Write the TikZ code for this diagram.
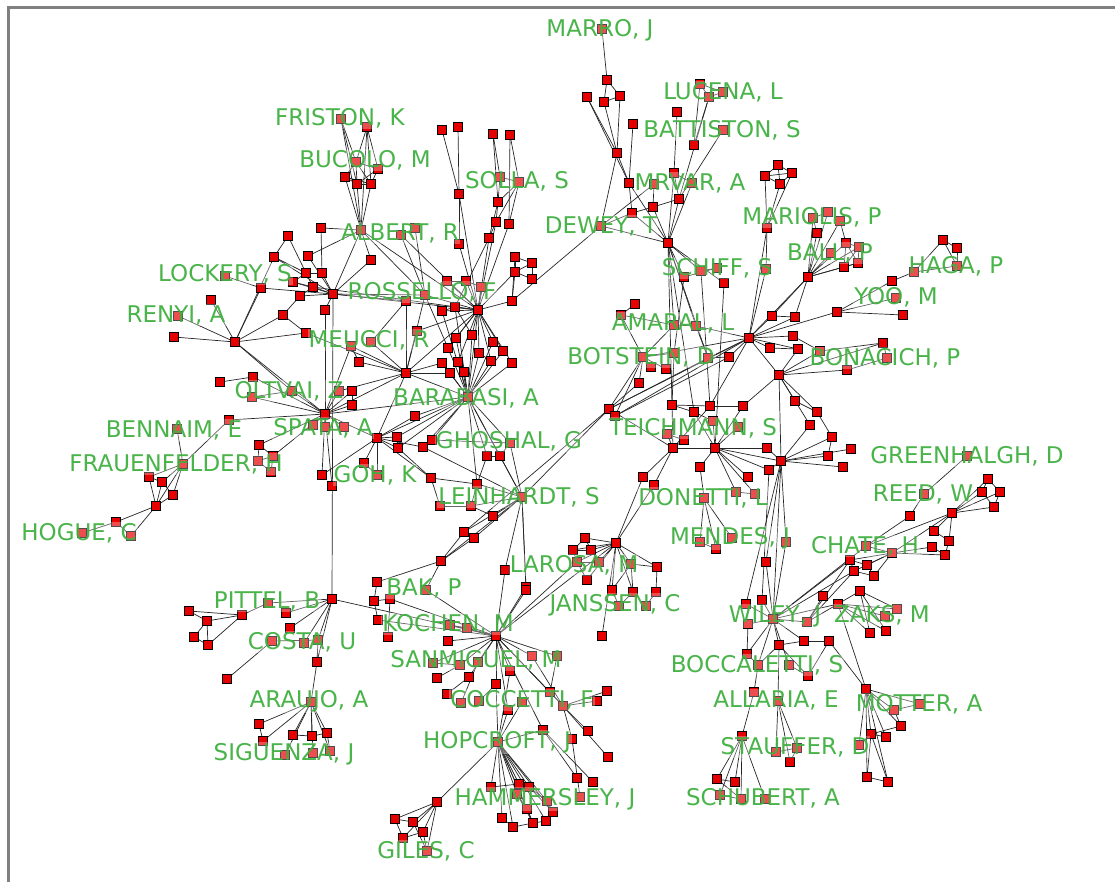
\documentclass[tikz,border=0pt]{standalone}
\usepackage{fontspec}
\setmainfont{DejaVu Sans}
\pgfdeclarelayer{bgzero}
\pgfdeclarelayer{edges}
\pgfsetlayers{bgzero,edges,main}
\definecolor{lblgreen}{RGB}{64,176,64}
\definecolor{nodered}{RGB}{230,0,0}
\tikzset{
  pt/.style={rectangle, minimum size=8.5pt, inner sep=0pt, fill=nodered, draw=black, line width=0.6pt},
  edge/.style={draw=black!85, line width=0.7pt},
  lbl/.style={font=\fontsize{23}{26}\selectfont, text=lblgreen, fill=white, fill opacity=0.3, text opacity=0.95, inner sep=1pt},
}
\begin{document}
\begin{tikzpicture}[x=1pt,y=-1pt]
\useasboundingbox (0,0) rectangle (1115,882);
\begin{pgfonlayer}{bgzero}
\fill[white] (0,0) rectangle (1115,882);
\draw[gray, line width=3pt] (8,882) -- (8,8) -- (1115,8);
\end{pgfonlayer}
% ---------------- nodes ----------------
\foreach \n/\x/\y in {alb/361/230, f1/341/119, f2/367/127, f3/356/162, f4/378/169, f5/345/177, f6/357/184, f7/371/184, a2/321/228, a3/288/236, a4/308/256, a5/371/260, a6/401/235, a7/415/228,
 lk1/274/257, lk2/225/276, lk3/261/288, lk4/306/273, lk5/322/273, lk6/293/282, lk7/313/287, lkh/333/294, lk8/300/296, lk9/325/310, lk10/283/315,
 ren/235/342, r1/211/300, r2/178/316, r3/174/337,
 olt/325/414, o1/292/391, o2/220/382, o3/253/377, o4/252/397, o5/339/391, o6/352/391, o7/352/405, o8/313/425, o9/325/427, o10/344/427, o11/229/420,
 sp1/259/445, sp2/273/456, sp3/258/461, sp4/271/472,
 fra/183/464, fr1/177/429, fr2/149/477, fr3/162/482, fr4/173/495, fr5/156/506, fr6/116/522, fr7/82/533, fr8/131/536,
 mel/406/373, m1/306/333, m2/351/346, m3/371/342, m4/359/362, m5/417/331, m6/406/301,
 goh/377/438, g1/397/437, g2/398/448, g3/423/447, g4/432/440, g5/415/416, g6/364/463, g7/377/475, g8/322/475, g9/332/486, g10/431/478}
  \node[pt] (\n) at (\x,\y) {};
\foreach \n/\x/\y in {bar/468/397, ros/478/310, c1/425/295, c2/442/311, c3/455/307, c4/512/301, c5/456/338, c6/472/335, c7/493/342, c8/448/348, c9/479/353, c10/503/351, c11/442/363, c12/458/362, c13/491/361, c14/512/363, c15/450/373, c16/464/372, c17/447/281, c18/466/281, c19/481/287, c20/515/257, c21/532/263, c22/515/272, c23/532/279,
 s1/442/130, s2/458/127, s3/459/194, s4/459/244, s5/493/134, s6/510/135, s7/500/177, s8/519/182, s9/498/202, s10/496/222, s11/509/224, s12/489/238,
 lei/522/497, l1/510/443, l2/487/456, l3/500/456, l4/477/484, l5/440/506, l6/471/506, l7/493/516, l8/464/532, l9/474/538, l10/441/561, l11/505/570, l12/526/587,
 koc/496/636, bk0/377/582, bk1/374/601, bk2/390/599, bk3/378/620, bk4/388/637, bk5/426/590, k1/450/625, k2/467/628, k3/448/641, k4/433/663, k5/437/678, k6/460/665, k7/478/662, k8/469/677, k9/447/694, k10/461/703, k11/479/701, k12/496/684, k13/510/671, k14/532/656, k15/557/656, k16/508/710, k17/522/702, k18/550/692, k19/543/730, k20/526/590, k21/563/706, k22/597/701, k23/607/691, k24/588/731, k25/572/739, k26/608/757, k27/577/778, k28/593/782, k29/580/797,
 hop/498/742, h1/491/787, h2/519/784, h3/529/787, h4/517/794, h5/527/809, h6/547/801, h7/502/818, h8/513/827, h9/533/823, h10/546/821, h11/553/812,
 gil/437/802, gi1/395/819, gi2/413/822, gi3/423/832, gi4/403/838, gi5/427/851,
 pit/332/599, p1/286/613, p2/290/628, p3/304/643, p4/318/640, p5/317/662, p6/268/603, p7/242/615, p8/189/611, p9/207/621, p10/194/637, p11/208/645, p12/272/641, p13/227/679,
 ara/311/702, ar1/293/735, ar2/312/736, ar3/327/733, ar4/330/751, ar5/285/755, ar6/313/753, ar7/259/724, ar8/263/741}
  \node[pt] (\n) at (\x,\y) {};
\foreach \n/\x/\y in {dew/601/226, d1/602/29, d2/607/80, d3/587/97, d4/604/102, d5/620/96, d6/617/153, d7/633/124, d8/629/183, d9/632/213, d10/653/207, d11/654/184, d12/674/173, d13/679/199, d14/692/183, mrv/668/243, d15/677/112, d16/694/145, d17/723/130, d18/700/84, d19/709/97, d20/723/92,
 sc1/684/277, sc2/701/271, sc3/717/268, sc4/724/283, sc5/766/269,
 mo1/765/176, mo2/778/165, mo3/792/173, mo4/780/184, mo5/767/228,
 bal/808/277, b1/828/212, b2/813/218, b3/817/233, b4/831/253, b5/840/221, b6/846/243, b7/859/247, b8/844/267, b9/858/263,
 hg1/943/240, hg2/957/248, hg3/957/266, hg4/914/272, hg5/892/281,
 yo0/837/312, yo1/896/298, yo2/903/315,
 bn1/883/343, bn2/887/358, bn3/847/370,
 amh/749/338, bon/779/375, don/781/461, te1/673/448, te2/715/448, tb/609/409,
 t1/635/304, t2/621/315, t3/674/325, t4/696/326, t5/772/316, t6/795/317, t7/793/336, t8/770/348, t9/798/349, t10/820/351, t11/643/357, t12/674/353, t13/708/358, t14/729/357, t15/651/367, t16/666/369, t17/639/383, t18/615/416, t19/672/405, t20/710/406, t21/743/406, t22/694/412, t23/713/421, t24/738/427, t25/795/401, t26/817/412, t27/810/425, t28/832/437, t29/828/456, t30/667/434, t31/684/440, t32/767/448, t33/769/470, t34/700/467, t35/643/477, t36/654/485, t37/748/477, t38/736/492, t39/755/494, t40/704/498, t41/700/542, t42/716/549, t43/732/538, t44/786/542, t45/766/562, t46/851/449, t47/843/467}
  \node[pt] (\n) at (\x,\y) {};
\foreach \n/\x/\y in {lar/616/543, la1/585/538, la2/573/550, la3/591/550, la4/577/562, la5/599/562, la6/587/580, la7/631/564, la8/657/567, la9/612/590, la10/602/636, la12/633/592, la13/656/592, la14/619/606, la15/646/606,
 wil/773/619, w1/746/604, w2/762/600, w3/748/624, w4/807/622, w5/823/596, w6/838/604, w7/779/645, w8/804/641, w9/829/641, w10/747/654, w11/758/665, w12/789/665, w13/808/676, w14/754/692, w15/778/701,
 st0/742/736, st1/776/752, st2/797/748, st3/790/762, st4/717/779, st5/735/782, st6/720/795, st7/741/799, st8/765/799,
 ch1/850/560, ch2/867/565, ch3/854/571, ch4/874/576, ch5/866/546, ch6/892/553, z1/860/591, z2/897/609, z3/885/616, z4/870/633, z5/886/631,
 ree/952/513, re1/934/531, re2/949/541, re3/932/547, re4/945/555, re5/988/479, re6/982/492, re7/1000/492, re8/994/507, re9/910/516, re10/924/494, re11/967/456,
 mot/866/689, mt1/894/710, mt2/920/704, mt3/901/726, mt4/871/734, mt5/886/737, mt6/859/745, mt7/867/777, mt8/888/782}
  \node[pt] (\n) at (\x,\y) {};
% ---------------- edges ----------------
\begin{pgfonlayer}{edges}
\foreach \a/\b in {f1/f3, f1/f6, f2/f3, f2/f4, f2/f7, f3/f4, f3/f5, f3/f6, f3/f7, f4/f6, f4/f7, f5/f6, f6/f7, f5/f7, alb/f1, alb/f2, alb/f5, alb/f6, alb/f7, alb/a2, alb/a5, alb/lkh, alb/c1, alb/ros, a6/c1, a7/c1, a6/ros, a3/lk4, a3/lk1, a4/lkh, a4/alb, a5/lkh, a2/lk5,
 lk2/lk3, lk3/lkh, lk1/lkh, lk1/lk4, lk4/lk5, lk4/lk6, lk4/lk7, lk5/lkh, lk6/lk7, lk6/lkh, lk7/lkh, lk8/lk7, lk8/lkh, lk9/lkh, lk10/lk8, lk3/ren, lk1/ren, lkh/c1, lkh/ros, lk7/ros, lkh/pit, lk9/olt,
 ren/r1, ren/r2, ren/r3, ren/olt, ren/o1, ren/lk10, ren/m1,
 olt/o1, olt/o3, olt/o4, olt/o5, olt/o6, olt/o7, olt/o8, olt/o9, olt/o10, olt/o11, o2/o3, o1/o4, olt/sp1, olt/sp2, sp1/sp2, sp1/sp3, sp2/sp3, sp2/sp4, sp3/sp4, olt/mel, olt/goh, olt/g9, olt/m2, olt/bar, o11/fra, o6/o7, o5/mel,
 fra/fr1, fra/fr2, fra/fr3, fra/fr4, fra/fr5, fr2/fr3, fr2/fr5, fr3/fr4, fr3/fr5, fr4/fr5, fr5/fr6, fr6/fr7, fr6/fr8, fr5/fr8,
 mel/m2, mel/m3, mel/m4, mel/m5, mel/m1, mel/bar, mel/ros, mel/c1, m1/lk10, m3/m6, m6/lkh, m5/ros, m4/m2, mel/c11, mel/c15, mel/goh, mel/m6,
 goh/g1, goh/g2, goh/g3, goh/g6, goh/g7, goh/g5, goh/bar, g1/bar, g2/bar, g3/bar, g4/bar, g5/bar, g8/goh, g8/olt, g10/goh, g10/g2, g10/l4, g3/g4, g1/g2, g6/g7, g4/l1, g3/lei, g10/l5}
  \draw[edge] (\a) -- (\b);
\foreach \a/\b in {bar/ros, ros/c1, ros/c2, ros/c3, ros/c4, ros/c5, ros/c6, ros/c7, ros/c8, ros/c9, ros/c10, ros/c12, ros/c13, ros/c14, ros/c17, ros/c18, ros/c19, bar/c5, bar/c6, bar/c8, bar/c9, bar/c11, bar/c12, bar/c13, bar/c14, bar/c15, bar/c16, bar/c7, bar/c10, bar/c2, bar/c3, c20/c21, c20/c22, c21/c23, c22/c23, c21/c22, c4/c20, c4/c22, ros/c22, c4/dew, c5/c8, c9/c13, c11/c15, c12/c16, c2/c3, c17/c18, c18/c19, c1/c8, c3/c6,
 s1/s3, s2/s3, s3/s4, s4/ros, s3/ros, s5/s7, s5/s9, s6/s11, s6/s8, s7/s9, s7/s8, s8/s9, s8/s10, s8/s11, s9/s10, s10/s12, s9/s12, s12/ros, s10/ros, s11/ros, s12/c3,
 bar/l1, bar/l2, bar/l3, bar/l4, bar/lei, l1/lei, l2/l4, l3/lei, l4/lei, l4/l6, l5/l6, l6/lei, l7/lei, l6/l7, l8/lei, l9/lei, l8/l9, l10/l8, l10/l9, l10/lei, l11/lei, l12/lei, l11/koc, l12/koc, lei/tb, l10/bk5, l8/tb, l2/l3, l1/l3,
 koc/k1, koc/k2, koc/k3, koc/k4, koc/k6, koc/k7, koc/k8, koc/k12, koc/k13, koc/k14, koc/k15, koc/k16, koc/k18, koc/k19, koc/k20, koc/bk5, koc/bk3, koc/bk2, koc/pit, bk1/bk2, bk1/bk3, bk0/bk1, bk2/bk4, bk0/l10, k1/k2, k4/k6, k5/k6, k9/k8, k10/k7, k11/k12, k13/hop, k16/hop, k17/hop, k19/hop, k12/hop, k15/k18, k21/k22, k21/k23, k21/k24, k21/k26, k21/k25, k21/koc, k21/k14, k18/k21, k19/k27, k19/k28, k25/k29, k20/lei, koc/la4, koc/lar,
 hop/h1, hop/h2, hop/h3, hop/h4, hop/h5, hop/h6, hop/h7, hop/h8, hop/h9, hop/h10, hop/h11, h1/h2, h2/h3, h2/h4, h4/h5, h5/h9, h9/h10, h10/h11, h6/h11, h3/h6, h7/h8, h8/h9, h4/h9, hop/gil, h3/h11,
 gil/gi1, gil/gi2, gil/gi3, gil/gi4, gil/gi5, gi1/gi2, gi1/gi4, gi2/gi3, gi4/gi3, gi2/gi5, gi3/gi5,
 pit/p1, pit/p2, pit/p3, pit/p4, pit/p6, p6/p7, p7/p8, p7/p9, p7/p11, p8/p9, p9/p10, p10/p11, p9/p11, p4/p12, p12/p13, p4/p5, pit/p5, p5/ara,
 ara/ar1, ara/ar2, ara/ar3, ara/ar4, ara/ar5, ara/ar6, ara/ar7, ar1/ar2, ar2/ar3, ar7/ar8, ara/ar8, ar3/ar4}
  \draw[edge] (\a) -- (\b);
\foreach \a/\b in {d1/d2, d2/d4, d2/d5, d4/d5, d3/d6, d4/d6, d5/d6, d6/d8, d6/dew, d3/d8, d7/d8, d8/d9, d8/mrv, d9/dew, d9/d10, d9/mrv, d10/d13, d10/mrv, d13/mrv, d12/d15, d12/d14, d16/d18, d17/d13, d19/d13, d14/mrv, d12/mrv, dew/mrv, dew/d11, d11/d10, d18/d20, d19/d20, d18/d19, d16/d19, d12/d13,
 mrv/sc1, mrv/sc2, mrv/sc4, sc2/sc3, sc3/sc1, mrv/t19, mrv/t22, mrv/t4, mrv/t3, sc2/t20, sc4/te2, sc1/t12, mrv/t13,
 mo1/mo2, mo2/mo3, mo3/mo4, mo4/mo1, mo1/mo3, mo2/mo4, mo5/mo1, mo5/mo4, mo5/mo3, mo5/sc5, sc5/amh, mo5/amh,
 bal/b1, bal/b2, bal/b3, bal/b4, bal/b5, bal/b6, bal/b7, bal/b8, bal/b9, b1/b2, b2/b3, b5/b6, b6/b7, b6/b8, b7/b9, b8/b9, b6/b9, b7/b8, bal/amh, bal/t5, bal/t6,
 amh/yo0, yo0/hg5, hg5/hg4, hg4/hg1, hg4/hg3, hg1/hg2, hg2/hg3, hg1/hg3, yo0/yo1, yo0/yo2,
 bon/bn1, bon/bn3, bn3/bn2, t10/bn1, bn1/bn2,
 amh/t5, amh/t6, amh/t7, amh/t8, amh/t9, amh/t14, amh/t13, amh/bon, amh/t11, amh/tb, amh/t18, amh/t4, t1/t2, t2/t11, t11/tb, t11/t18, t11/t15, t11/t17, t11/t16, t11/t3, t3/t4, t4/t13, t12/t19, t12/t11, t13/tb, t14/t18, t14/t13, t17/tb, t19/te1, t19/t20, t19/t22, t20/t21, t21/bon, t21/te2, t22/te2, t22/t23, t23/te2, t24/te2, te1/te2, te1/t30, te1/t31, te1/t35, te1/t36, te1/tb, te2/t32, te2/t33, te2/t37, te2/t38, te2/t39, te2/t34, t34/t40, t40/t41, t40/t42, t40/t43, t41/t42, t38/t39, bon/don, bon/t25, bon/t26, bon/t27, bon/t10, bon/t9, don/t27, don/t29, don/t28, don/t32, don/t33, don/t46, don/t47, don/t44, don/t45, don/wil, don/te2, t7/t10, t6/t5, t8/t9, t25/t26, t26/t28, t28/t29, t36/lar, t35/lar, t30/t31, te1/t20, tb/t18, t2/t3, amh/t20, t45/wil, t44/wil, t33/w2, don/w1}
  \draw[edge] (\a) -- (\b);
\foreach \a/\b in {lar/la1, lar/la2, lar/la3, lar/la5, lar/la6, lar/la7, lar/la8, lar/la9, lar/la10, la1/la2, la1/la3, la2/la4, la3/la5, la4/la5, la4/la6, la2/la3, la7/la9, la12/la14, la13/la15, la8/la13, la7/la12, lar/la12, lar/la4, la14/la9, la8/la7,
 wil/w1, wil/w2, wil/w3, wil/w4, wil/w7, wil/w8, wil/w10, wil/w11, wil/w12, w4/w5, w4/w6, w8/w7, w9/w8, w9/w13, w13/w7, w11/w14, w14/st0, w15/w7, w15/st1, w15/st2, w15/st3, st1/st2, st3/st2, st0/st4, st0/st5, st0/st6, st0/st7, st0/st8, st4/st5, st4/st7, st6/st7, w10/w11, w3/w10, w12/w13, w7/w11,
 wil/ch1, wil/ch3, wil/ch5, wil/w6, ch1/ch2, ch2/ch4, ch3/ch4, ch1/ch3, ch5/ch6, ch4/ch6, ch5/re9, re9/re10, re10/re11, ch6/ree, ch6/re3, ch6/re4, w6/z1, w6/z2, w6/z3, w6/z4, w6/z5, z1/z2, z1/z4, z1/z5, w6/mot, w9/mot, ch2/ch6, ch1/ch6, ch3/ch6, ch1/w4, ch3/w4,
 ree/re1, ree/re2, ree/re5, ree/re6, ree/re7, ree/re8, re5/re6, re5/re7, re6/re8, re7/re8, re1/re2, re3/re4, re2/re4, ree/ch5,
 mot/mt1, mot/mt2, mot/mt3, mot/mt4, mot/mt5, mot/mt7, mot/mt8, mt1/mt2, mt1/mt3, mt4/mt5, mt4/mt3, mt4/mt7, mt4/mt8, mt7/mt8, mt6/mt4, mt6/mot}
  \draw[edge] (\a) -- (\b);
\end{pgfonlayer}
% ---------------- labels ----------------
\foreach \n/\x/\y/\t in {Lmarro/600/30/{MARRO, J}, Llucena/723/92/{LUCENA, L}, Lbattiston/722/130/{BATTISTON, S}, Lfriston/340/118/{FRISTON, K}, Lbucolo/365/160/{BUCOLO, M}, Lsolla/517/181/{SOLLA, S}, Lmrvar/690/183/{MRVAR, A}, Ldewey/601/226/{DEWEY, T}, Lalbert/400/233/{ALBERT, R}, Lmariolis/812/217/{MARIOLIS, P}, Lschiff/717/268/{SCHIFF, S}, Lball/830/253/{BALL, P}, Lhaga/956/266/{HAGA, P}, Llockery/225/274/{LOCKERY, S}, Lrossello/422/292/{ROSSELLO, F}, Lyoo/896/297/{YOO, M}, Lrenyi/176/315/{RENYI, A}, Lamaral/673/323/{AMARAL, L}, Lmeucci/369/340/{MEUCCI, R}, Lbotstein/641/357/{BOTSTEIN, D}, Lbonacich/885/358/{BONACICH, P}, Loltvai/289/391/{OLTVAI, Z}, Lbarabasi/466/398/{BARABASI, A}, Lbennaim/174/430/{BENNAIM, E}, Lspata/323/428/{SPATA, A}, Lteichmann/693/428/{TEICHMANN, S}, Lghoshal/509/441/{GHOSHAL, G}, Lgreenhalgh/967/456/{GREENHALGH, D}, Lfrauenfelder/176/464/{FRAUENFELDER, H}, Lgoh/375/475/{GOH, K}, Ldonetti/703/498/{DONETTI, L}, Lleinhardt/519/497/{LEINHARDT, S}, Lreed/923/494/{REED, W}, Lhogue/79/533/{HOGUE, C}, Lmendes/730/538/{MENDES, J}, Lchate/865/546/{CHATE, H}, Llarosa/574/565/{LAROSA, M}, Lbak/424/588/{BAK, P}, Ljanssen/615/605/{JANSSEN, C}, Lpittel/267/601/{PITTEL, B}, Lwiley/775/616/{WILEY, J}, Lzaks/882/615/{ZAKS, M}, Lkochen/448/624/{KOCHEN, M}, Lcosta/302/642/{COSTA, U}, Lsanmiguel/476/660/{SANMIGUEL, M}, Lboccaletti/757/665/{BOCCALETTI, S}, Laraujo/309/701/{ARAUJO, A}, Lcoccetti/522/700/{COCCETTI, F}, Lallaria/776/700/{ALLARIA, E}, Lmotter/919/704/{MOTTER, A}, Lhopcroft/497/742/{HOPCROFT, J}, Lstauffer/795/747/{STAUFFER, D}, Lsiguenza/284/754/{SIGUENZA, J}, Lhammersley/545/799/{HAMMERSLEY, J}, Lschubert/763/798/{SCHUBERT, A}, Lgiles/426/851/{GILES, C}}
  \node[lbl] (\n) at (\x,\y) {\t};
\end{tikzpicture}
\end{document}
